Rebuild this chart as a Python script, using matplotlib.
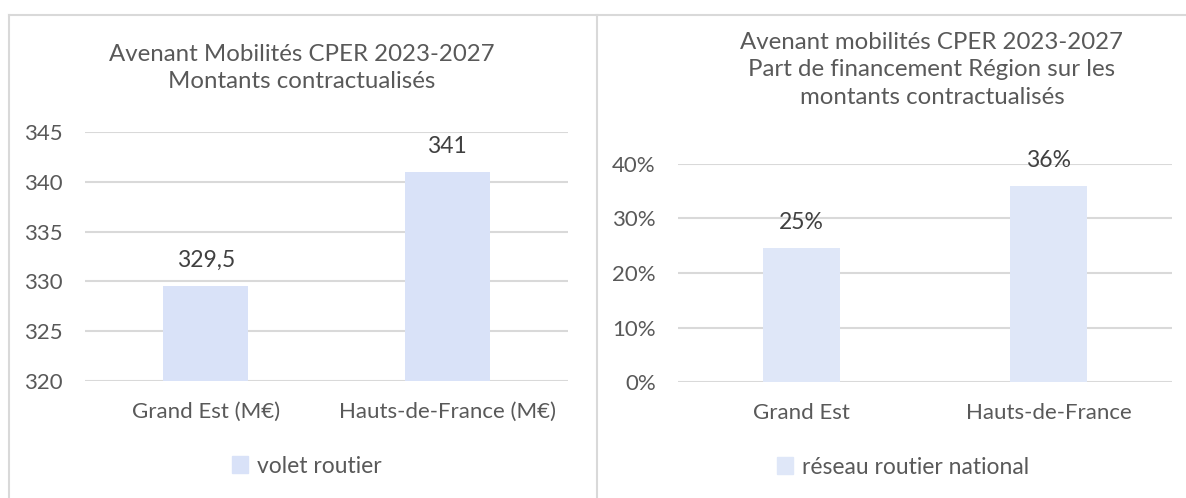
import matplotlib.pyplot as plt
from matplotlib.lines import Line2D
from matplotlib.patches import Patch
from matplotlib.ticker import FuncFormatter

# données
cats_left = ['Grand Est (M€)', 'Hauts-de-France (M€)']
vals_left = [329.5, 341]
labels_left = ['329,5', '341']
series_left = 'volet routier'
title_left = 'Avenant Mobilités CPER 2023-2027\nMontants contractualisés'

cats_right = ['Grand Est', 'Hauts-de-France']
vals_right = [0.245, 0.36]
labels_right = ['25%', '36%']
series_right = 'réseau routier national'
title_right = 'Avenant mobilités CPER 2023-2027\nPart de financement Région sur les\nmontants contractualisés'

plt.rcParams['font.family'] = ['Lato', 'DejaVu Sans']
txt = '#595959'
grid = '#D9D9D9'
W, H = 1186, 498

fig = plt.figure(figsize=(W / 100, H / 100), dpi=100)


def fx(px):
    return px / W


def fy(py):
    return 1 - py / H


# cadres des deux graphiques
for line in [((9, 1186), (15, 15)), ((9, 9), (15, 498)), ((597, 597), (15, 498))]:
    fig.add_artist(Line2D([fx(line[0][0]), fx(line[0][1])],
                          [fy(line[1][0]), fy(line[1][1])],
                          color=grid, lw=1.5))

ax1 = fig.add_axes([fx(85), fy(381), fx(568 - 85), (381 - 132) / H])
ax2 = fig.add_axes([fx(678), fy(382), fx(1172 - 678), (382 - 164) / H])


def style(ax, color, cats, vals, labels, ylim, ticks, width):
    x = range(len(cats))
    ax.bar(x, [v - ylim[0] for v in vals], bottom=ylim[0], width=width,
           color=color, zorder=2)
    ax.set_xlim(-0.5, len(cats) - 0.5)
    ax.set_ylim(*ylim)
    ax.set_yticks(ticks)
    ax.set_xticks(list(x))
    ax.set_xticklabels(cats)
    ax.yaxis.grid(True, color=grid, lw=1.5, zorder=0)
    for s in ax.spines.values():
        s.set_visible(False)
    ax.tick_params(axis='both', length=0, labelsize=16, colors=txt)
    ax.tick_params(axis='y', pad=16)
    ax.tick_params(axis='x', pad=15)
    for i, (v, lab) in enumerate(zip(vals, labels)):
        ax.annotate(lab, (i, v), xytext=(0, 18.5), textcoords='offset points',
                    ha='center', va='center', fontsize=16.5, color='#404040')


style(ax1, '#D9E2F8', cats_left, vals_left, labels_left, (320, 345),
      [320, 325, 330, 335, 340, 345], 0.35)
style(ax2, '#DFE7F8', cats_right, vals_right, labels_right, (0, 0.4),
      [0, 0.1, 0.2, 0.3, 0.4], 0.315)
ax2.yaxis.set_major_formatter(FuncFormatter(lambda v, p: f'{v * 100:.0f}%'))

fig.text(fx(302), fy(68), title_left, ha='center', va='center',
         fontsize=17.3, color=txt, linespacing=1.4)
fig.text(fx(932), fy(70), title_right, ha='center', va='center',
         fontsize=17.3, color=txt, linespacing=1.4)

fig.legend(handles=[Patch(color='#D9E2F8')], labels=[series_left],
           loc='center', bbox_to_anchor=(fx(307), fy(466)), frameon=False,
           fontsize=16.5, labelcolor=txt, handlelength=0.7, handleheight=0.7,
           handletextpad=0.4)
fig.legend(handles=[Patch(color='#DFE7F8')], labels=[series_right],
           loc='center', bbox_to_anchor=(fx(903), fy(467)), frameon=False,
           fontsize=16.5, labelcolor=txt, handlelength=0.7, handleheight=0.7,
           handletextpad=0.4)

fig.savefig('out.png', dpi=100)
